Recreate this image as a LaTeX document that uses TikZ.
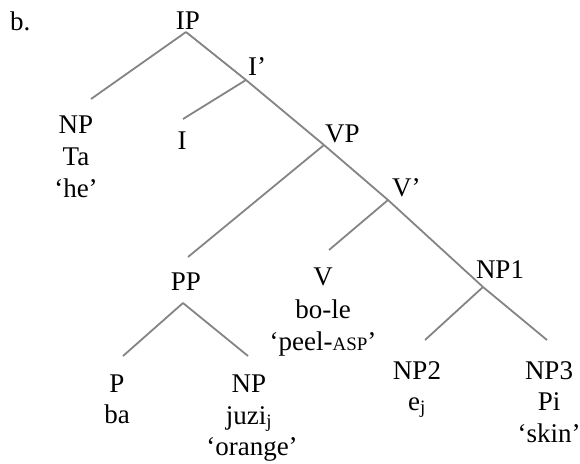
\documentclass[tikz,border=0pt]{standalone}
\usepackage{fontspec}
\setmainfont{Liberation Serif}
\definecolor{branch}{RGB}{132,132,132}
\newcommand{\smallcapsASP}{{\fontsize{19}{19}\selectfont ASP}}
\begin{document}
\begin{tikzpicture}[x=1pt,y=-1pt,
  lbl/.style={font=\fontsize{27}{32}\selectfont, inner sep=0pt, anchor=base},
  lblw/.style={lbl, anchor=base west},
  branchline/.style={draw=branch, line width=1.8pt}]
\useasboundingbox (0,0) rectangle (580,463);

% labels
\node[lblw] (b) at (10,30) {b.};
\node[lbl] (ip) at (188,29) {IP};
\node[lblw] (ibar) at (248,75) {I’};
\node[lbl] (np) at (76,133) {NP};
\node[lbl] (ta) at (76,165) {Ta};
\node[lbl] (he) at (76,197) {‘he’};
\node[lbl] (i) at (182,149) {I};
\node[lblw] (vp) at (325,142) {VP};
\node[lblw] (vbar) at (392,196) {V’};
\node[lbl] (pp) at (186,290) {PP};
\node[lbl] (v) at (323,285) {V};
\node[lbl] (bole) at (323,318) {bo-le};
\node[lbl] (peel) at (323,350) {‘peel-\smallcapsASP’};
\node[lbl] (npone) at (500,278) {NP1};
\node[lbl] (p) at (117,392) {P};
\node[lbl] (ba) at (117,423) {ba};
\node[lbl] (npj) at (249,392) {NP};
\node[lbl] (juzi) at (249,424) {juzi\textsubscript{j}};
\node[lbl] (orange) at (252,455) {‘orange’};
\node[lbl] (nptwo) at (417,379) {NP2};
\node[lbl] (ej) at (417,410) {e\textsubscript{j}};
\node[lbl] (npthree) at (549,379) {NP3};
\node[lbl] (pi) at (549,410) {Pi};
\node[lbl] (skin) at (549,442) {‘skin’};

% branch points
\coordinate (ipA) at (186,32);
\coordinate (npE) at (91,99);
\coordinate (ibA) at (246,80);
\coordinate (iE) at (183,119);
\coordinate (vpA) at (324,145);
\coordinate (ppE) at (188,257);
\coordinate (vbA) at (388,200);
\coordinate (vE) at (329,250);
\coordinate (nponeA) at (483,287);
\coordinate (ppA) at (183,303);
\coordinate (pE) at (123,356);
\coordinate (npjE) at (248,356);
\coordinate (nptwoE) at (425,340);
\coordinate (npthreeE) at (547,340);

% branches
\draw[branchline] (ipA) -- (npE);
\draw[branchline] (ipA) -- (ibA) -- (vpA);
\draw[branchline] (ibA) -- (iE);
\draw[branchline] (vpA) -- (ppE);
\draw[branchline] (vpA) -- (vbA) -- (nponeA);
\draw[branchline] (vbA) -- (vE);
\draw[branchline] (ppA) -- (pE);
\draw[branchline] (ppA) -- (npjE);
\draw[branchline] (nponeA) -- (nptwoE);
\draw[branchline] (nponeA) -- (npthreeE);
\end{tikzpicture}
\end{document}
